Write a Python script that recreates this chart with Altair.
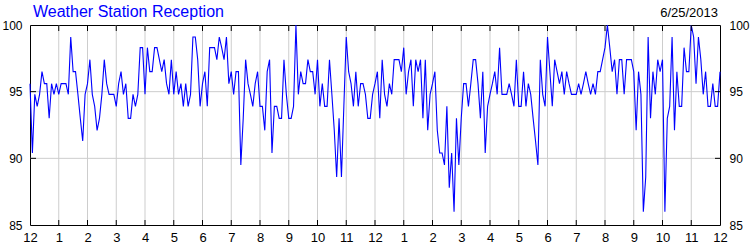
import altair as alt
import pandas as pd

# Reception (%) sampled every 5 minutes over 24 hours
reception = [
    95.6, 90.4, 94.8, 93.9, 94.8, 96.5, 95.6, 95.6, 93.0, 95.6, 94.8, 95.6,
    94.8, 95.6, 95.6, 95.6, 94.8, 99.1, 96.5, 96.5, 94.8, 93.0, 91.3, 94.8,
    95.6, 97.4, 94.8, 93.9, 92.1, 93.0, 94.8, 97.4, 95.6, 94.8, 94.8, 94.8,
    93.9, 95.6, 96.5, 94.8, 95.6, 93.0, 93.0, 94.8, 93.9, 94.8, 98.3, 98.3,
    94.8, 98.3, 96.5, 96.5, 98.3, 98.3, 97.4, 96.5, 97.4, 95.6, 94.8, 97.4,
    94.8, 96.5, 94.8, 95.6, 93.9, 95.6, 93.9, 94.8, 99.1, 99.1, 97.4, 93.9,
    95.6, 96.5, 93.9, 98.3, 98.3, 98.3, 97.4, 99.1, 98.3, 97.4, 99.1, 95.6,
    96.5, 94.8, 96.5, 96.5, 89.5, 93.0, 97.4, 95.6, 94.8, 93.9, 95.6, 96.5,
    93.9, 93.9, 92.1, 96.5, 97.4, 90.4, 93.9, 93.9, 93.0, 93.0, 97.4, 94.8,
    93.0, 93.0, 93.9, 100.0, 94.8, 96.5, 95.6, 95.6, 97.4, 96.5, 96.5, 94.8,
    97.4, 93.9, 95.6, 93.9, 93.9, 97.4, 94.8, 92.1, 88.6, 93.0, 88.6, 93.9,
    99.1, 96.5, 95.6, 93.9, 96.5, 93.9, 95.6, 95.6, 94.8, 93.0, 93.0, 94.8,
    95.6, 96.5, 93.0, 97.4, 94.8, 93.9, 95.6, 94.8, 97.4, 97.4, 97.4, 96.5,
    98.3, 94.8, 96.5, 97.4, 93.9, 97.4, 96.5, 97.4, 93.0, 97.4, 92.1, 94.8,
    95.6, 96.5, 92.1, 90.4, 90.4, 89.5, 93.9, 87.8, 90.4, 86.0, 93.0, 89.5,
    93.0, 95.6, 95.6, 93.9, 95.6, 97.4, 97.4, 95.6, 93.0, 96.5, 90.4, 93.9,
    94.8, 95.6, 96.5, 94.8, 98.3, 94.8, 94.8, 94.8, 95.6, 94.8, 93.9, 97.4,
    93.9, 93.9, 96.5, 93.9, 95.6, 94.8, 93.0, 91.3, 89.5, 97.4, 94.8, 93.9,
    99.1, 96.5, 93.9, 97.4, 96.5, 95.6, 96.5, 94.8, 96.5, 95.6, 94.8, 94.8,
    94.8, 95.6, 94.8, 95.6, 96.5, 95.6, 94.8, 95.6, 94.8, 96.5, 96.5, 97.4,
    98.3, 100.0, 98.3, 96.5, 97.4, 94.8, 97.4, 97.4, 94.8, 97.4, 97.4, 97.4,
    96.5, 92.1, 96.5, 94.8, 86.0, 88.6, 99.1, 93.0, 96.5, 94.8, 97.4, 96.5,
    97.4, 86.0, 93.0, 93.9, 99.1, 92.1, 96.5, 93.9, 93.9, 98.3, 96.5, 96.5,
    100.0, 99.1, 95.6, 99.1, 97.4, 94.8, 96.5, 93.9, 93.9, 95.6, 93.9, 93.9,
    96.5,
]
sample_minutes = [5 * i for i in range(len(reception))]

hour_labels = ["12", "1", "2", "3", "4", "5", "6", "7", "8", "9", "10", "11",
               "12", "1", "2", "3", "4", "5", "6", "7", "8", "9", "10", "11", "12"]
hour_ticks = [60 * h for h in range(len(hour_labels))]
inner_hour_ticks = hour_ticks[1:-1]
y_ticks = [85, 90, 95, 100]
y_grid = [90, 95]

title_text = "Weather Station Reception"
date_text = "6/25/2013"

FONT = "Liberation Sans, Arial, sans-serif"
W, H = 690, 200
GRID = "#cdcdcd"

df = pd.DataFrame({"minute": sample_minutes, "value": reception})
df_vgrid = pd.DataFrame({"tick": inner_hour_ticks})
df_hgrid = pd.DataFrame({"level": y_grid})
df_titles = pd.DataFrame({"t": [title_text], "d": [date_text]})

label_expr = "[" + ",".join("'%s'" % s for s in hour_labels) + "][round(datum.value/60)]"

xscale = alt.Scale(domain=[0, 1440], nice=False, zero=False)
yscale = alt.Scale(domain=[85, 100], nice=False, zero=False)

xaxis = alt.Axis(values=hour_ticks, labelExpr=label_expr, grid=False, ticks=False,
                 domain=False, title=None, labelFontSize=13, labelPadding=6,
                 labelColor="black", labelFont=FONT, labelFlush=False)

vgrid = alt.Chart(df_vgrid).mark_rule(color=GRID, strokeWidth=1).encode(
    x=alt.X("tick:Q", scale=xscale, axis=xaxis)
)
hgrid = alt.Chart(df_hgrid).mark_rule(color=GRID, strokeWidth=1).encode(
    y=alt.Y("level:Q", scale=yscale, axis=None)
)

line = alt.Chart(df).mark_line(color="#0000ff", strokeWidth=1.1).encode(
    x=alt.X("minute:Q", scale=xscale, axis=xaxis),
    y=alt.Y("value:Q", scale=yscale,
            axis=alt.Axis(values=y_ticks, grid=False, ticks=False, domain=False,
                          title=None, labelFontSize=12, labelPadding=8,
                          labelColor="black", labelFont=FONT))
)

right_axis = alt.Chart(df).mark_line(opacity=0).encode(
    x=alt.X("minute:Q", scale=xscale, axis=xaxis),
    y=alt.Y("value:Q", scale=yscale,
            axis=alt.Axis(orient="right", values=y_ticks, grid=False, ticks=False,
                          domain=False, title=None, labelFontSize=12, labelPadding=9,
                          labelColor="black", labelFont=FONT))
)

# inner tick marks on the frame
top_ticks = alt.Chart(df_vgrid).mark_rule(color="black", strokeWidth=1).encode(
    x=alt.X("tick:Q", scale=xscale, axis=xaxis), y=alt.value(0), y2=alt.value(6)
)
bottom_ticks = alt.Chart(df_vgrid).mark_rule(color="black", strokeWidth=1).encode(
    x=alt.X("tick:Q", scale=xscale, axis=xaxis), y=alt.value(H), y2=alt.value(H - 5)
)
left_ticks = alt.Chart(df_hgrid).mark_rule(color="black", strokeWidth=1).encode(
    y=alt.Y("level:Q", scale=yscale, axis=None), x=alt.value(0), x2=alt.value(6)
)
right_ticks = alt.Chart(df_hgrid).mark_rule(color="black", strokeWidth=1).encode(
    y=alt.Y("level:Q", scale=yscale, axis=None), x=alt.value(W), x2=alt.value(W - 5)
)

title = alt.Chart(df_titles).mark_text(
    align="left", baseline="alphabetic", fontSize=16, font=FONT, color="#0000ff"
).encode(text="t:N", x=alt.value(3), y=alt.value(-8))

date = alt.Chart(df_titles).mark_text(
    align="right", baseline="alphabetic", fontSize=13, font=FONT, color="black"
).encode(text="d:N", x=alt.value(W - 2), y=alt.value(-8))

chart = alt.layer(
    vgrid, hgrid, line, right_axis, top_ticks, bottom_ticks, left_ticks, right_ticks,
    title, date
).resolve_scale(y="independent").properties(
    width=W, height=H,
    padding={"left": 30, "top": 25, "right": 30, "bottom": 25},
    autosize="none",
    background="white",
).configure_view(stroke="black", strokeWidth=1)

chart.save("out.html", embed_options={"renderer": "svg", "actions": False})
